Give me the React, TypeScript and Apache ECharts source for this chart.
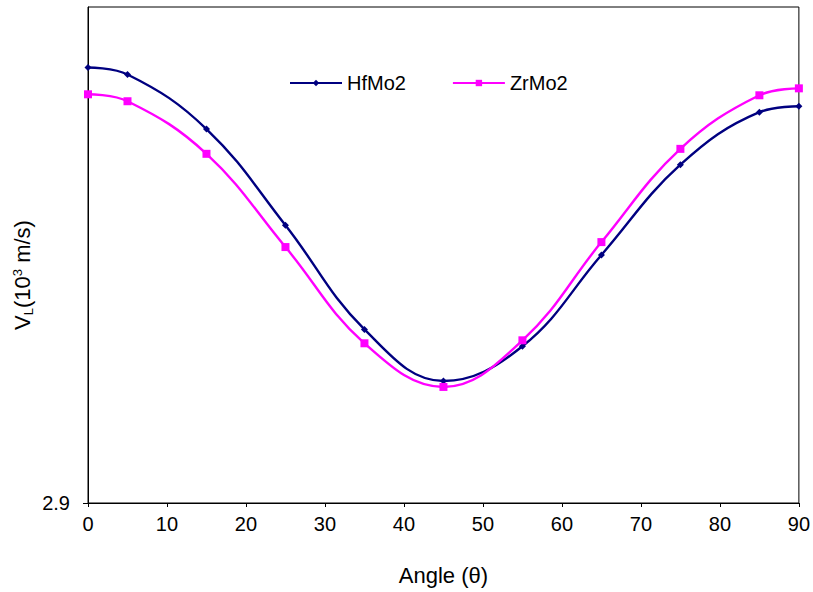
import React, { useEffect, useRef } from "react";
import * as echarts from "echarts";

const angles = [0, 5, 15, 25, 35, 45, 55, 65, 75, 85, 90];
const hfMo2 = [3.339, 3.332, 3.277, 3.18, 3.075, 3.023, 3.058, 3.15, 3.241, 3.294, 3.3];
const zrMo2 = [3.312, 3.305, 3.252, 3.158, 3.061, 3.017, 3.064, 3.163, 3.257, 3.311, 3.318];
const yTickLabels = [2.9];

export default function App() {
  const ref = useRef<HTMLDivElement>(null);
  useEffect(() => {
    if (!ref.current) return;
    const chart = echarts.init(ref.current, null, { renderer: "svg" });
    const font = "'Liberation Sans', Arial, sans-serif";
    const fs = 20;
    chart.setOption({
      animation: false,
      backgroundColor: "#ffffff",
      textStyle: { fontFamily: font },
      grid: {
        left: 88,
        right: 14,
        top: 7,
        bottom: 89,
        show: true,
        borderColor: "#000",
        borderWidth: 1,
      },
      legend: {
        top: 68,
        left: 284,
        itemWidth: 52,
        itemHeight: 8,
        itemGap: 46,
        textStyle: { fontSize: fs, color: "#000", fontFamily: font },
        data: ["HfMo2", "ZrMo2"],
      },
      xAxis: {
        type: "value",
        min: 0,
        max: 90,
        interval: 10,
        name: "Angle (θ)",
        nameLocation: "middle",
        nameGap: 61,
        nameTextStyle: { fontSize: 22, color: "#000", fontFamily: font },
        axisLine: { lineStyle: { color: "#000", width: 1 } },
        axisTick: { show: true, inside: false, length: 4, lineStyle: { color: "#000" } },
        axisLabel: { fontSize: fs, color: "#000", margin: 11, fontFamily: font },
        splitLine: { show: false },
      },
      yAxis: {
        type: "value",
        min: 2.9,
        max: 3.4,
        axisLine: { show: true, lineStyle: { color: "#000", width: 1 } },
        axisTick: {
          show: true,
          length: 5,
          lineStyle: { color: "#000" },
          customValues: yTickLabels,
        },
        axisLabel: {
          fontSize: fs,
          color: "#000",
          margin: 18,
          fontFamily: font,
          customValues: yTickLabels,
          formatter: (v: number) => v.toFixed(1),
        },
        splitLine: { show: false },
      },
      graphic: [
        {
          type: "text",
          x: 22,
          y: 275,
          rotation: Math.PI / 2,
          style: {
            text: "V{sub|L}(10{sup|3} m/s)",
            fontSize: 22,
            fontFamily: font,
            fill: "#000",
            align: "center",
            verticalAlign: "middle",
            rich: {
              sub: { fontSize: 13, fontFamily: font, fill: "#000", padding: [13, 0, 0, 0] },
              sup: { fontSize: 13, fontFamily: font, fill: "#000", padding: [0, 0, 10, 0] },
            },
          },
        },
      ],
      series: [
        {
          name: "HfMo2",
          type: "line",
          data: angles.map((a, i) => [a, hfMo2[i]]),
          smooth: 0.4,
          symbol: "diamond",
          symbolSize: 7,
          showAllSymbol: true,
          itemStyle: { color: "#000080" },
          lineStyle: { color: "#000080", width: 2.4 },
        },
        {
          name: "ZrMo2",
          type: "line",
          data: angles.map((a, i) => [a, zrMo2[i]]),
          smooth: 0.4,
          symbol: "rect",
          symbolSize: 8,
          showAllSymbol: true,
          itemStyle: { color: "#FF00FF" },
          lineStyle: { color: "#FF00FF", width: 2.4 },
        },
      ],
    });
    return () => chart.dispose();
  }, []);
  return (
    <div
      ref={ref}
      style={{ position: "fixed", left: 0, top: 0, width: 813, height: 592, background: "#fff" }}
    />
  );
}
